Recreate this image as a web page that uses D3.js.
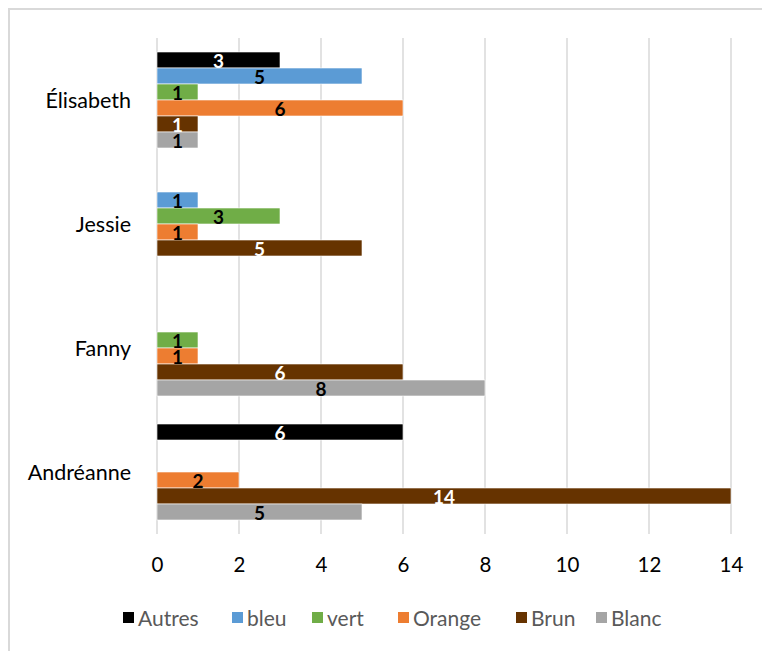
<!DOCTYPE html>
<html>
<head>
<meta charset="utf-8">
<script src="https://cdn.jsdelivr.net/npm/d3@7"></script>
<style>
  body { margin: 0; background: #fff; }
  svg { display: block; }
</style>
</head>
<body>
<svg id="chart" width="762" height="651"></svg>
<script>
// Categories, listed from top to bottom of the plot
const categories = ["Élisabeth", "Jessie", "Fanny", "Andréanne"];
const seriesNames = ["Autres", "bleu", "vert", "Orange", "Brun", "Blanc"];
const seriesColors = ["#000000", "#5B9BD5", "#70AD47", "#ED7D31", "#663300", "#A5A5A5"];
const labelColors = ["#ffffff", "#000000", "#000000", "#000000", "#ffffff", "#000000"];
// Values per series, in category order (null = no bar)
const autres = [3, null, null, 6];
const bleu   = [5, 1, null, null];
const vert   = [1, 3, 1, null];
const orange = [6, 1, 1, 2];
const brun   = [1, 5, 6, 14];
const blanc  = [1, null, 8, 5];
const xTicks = [0, 2, 4, 6, 8, 10, 12, 14];

const seriesValues = [autres, bleu, vert, orange, brun, blanc];

const svg = d3.select("#chart");
const font = "Lato, 'Open Sans', sans-serif";

// Chart frame
svg.append("path")
  .attr("d", "M9,651 V9 H762")
  .attr("fill", "none")
  .attr("stroke", "#d9d9d9")
  .attr("stroke-width", 2);

const plot = { left: 157, right: 731, top: 38, bottom: 534 };

const x = d3.scaleLinear().domain([0, 14]).range([plot.left, plot.right]);
const y0 = d3.scaleBand().domain(categories).range([plot.top, plot.bottom]).paddingInner(0.2258).paddingOuter(0.1129);
const y1 = d3.scaleBand().domain(seriesNames).range([0, y0.bandwidth()]);

// Vertical gridlines
svg.append("g").selectAll("line")
  .data(xTicks)
  .join("line")
  .attr("x1", d => x(d)).attr("x2", d => x(d))
  .attr("y1", plot.top).attr("y2", plot.bottom)
  .attr("stroke", "#d9d9d9")
  .attr("stroke-width", 1.5);

// Bars
const rows = [];
categories.forEach((c, ci) => {
  seriesNames.forEach((s, si) => {
    const v = seriesValues[si][ci];
    if (v != null) rows.push({ c, s, si, v });
  });
});

const bars = svg.append("g");
bars.selectAll("rect")
  .data(rows)
  .join("rect")
  .attr("x", x(0))
  .attr("y", d => y0(d.c) + y1(d.s))
  .attr("width", d => x(d.v) - x(0))
  .attr("height", y1.bandwidth())
  .attr("fill", d => seriesColors[d.si])
  .attr("stroke", "#ffffff")
  .attr("stroke-width", 0.6);

// Data labels centred in each bar
bars.selectAll("text")
  .data(rows)
  .join("text")
  .attr("x", d => (x(d.v) + x(0)) / 2)
  .attr("y", d => y0(d.c) + y1(d.s) + y1.bandwidth() / 2 + 1)
  .attr("dy", "0.36em")
  .attr("text-anchor", "middle")
  .attr("font-family", font)
  .attr("font-weight", "bold")
  .attr("font-size", 19)
  .attr("fill", d => labelColors[d.si])
  .text(d => d.v);

// Category labels
svg.append("g").selectAll("text")
  .data(categories)
  .join("text")
  .attr("x", 131)
  .attr("y", d => y0(d) + y0.bandwidth() / 2)
  .attr("dy", "0.36em")
  .attr("text-anchor", "end")
  .attr("font-family", font)
  .attr("font-size", 21.5)
  .attr("fill", "#000")
  .text(d => d);

// X-axis tick labels
const xAxis = d3.axisBottom(x).tickValues(xTicks).tickSize(0).tickPadding(0);
const gx = svg.append("g").attr("transform", `translate(0,${plot.bottom})`).call(xAxis);
gx.select(".domain").remove();
gx.selectAll("text")
  .attr("y", 31)
  .attr("dy", "0.36em")
  .attr("font-family", font)
  .attr("font-size", 20.5)
  .attr("fill", "#000");

// Legend
const legendX = [123, 232, 312, 398, 516, 596];
const legend = svg.append("g").selectAll("g")
  .data(seriesNames)
  .join("g")
  .attr("transform", (d, i) => `translate(${legendX[i]},618)`);
legend.append("rect")
  .attr("x", 0).attr("y", -6)
  .attr("width", 11).attr("height", 11)
  .attr("fill", (d, i) => seriesColors[i]);
legend.append("text")
  .attr("x", 15)
  .attr("dy", "0.36em")
  .attr("font-family", font)
  .attr("font-size", 21)
  .attr("fill", "#595959")
  .text(d => d);
</script>
</body>
</html>
